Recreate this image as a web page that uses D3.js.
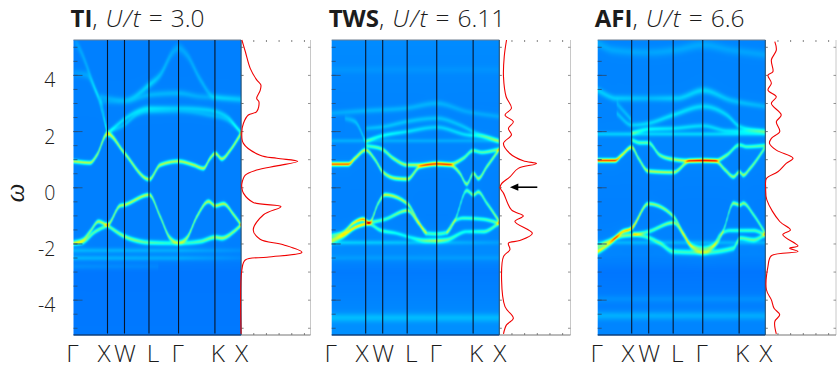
<!DOCTYPE html>
<html><head><meta charset="utf-8">
<script src="https://cdn.jsdelivr.net/npm/d3@7"></script>
<style>html,body{margin:0;background:#fff}svg{display:block}
text{fill:#1c1c1c;font-family:"Open Sans",sans-serif;font-weight:300}</style></head><body>
<script>
// ---- k-path and axis labels ----
const kTicks=[0,1,1.5,2.22,3.09,4.16,4.93];
const kLabels=["Γ","X","W","L","Γ","K","X"];
const kLabelNudge=[-1,-3.5,0.5,4,-1,3,0.5];
const omegaTicks=[-4,-2,0,2,4];
const titles=[["TI","3.0"],["TWS","6.11"],["AFI","6.6"]];
// ---- TI bands: [k, omega, weight] ----
const tiUpper=[[0,.94,.3],[.49,.89,.3],[.69,1.16,.3],[1,1.92,.34],[1.49,1.25,.3],[2.23,.3,.3],[2.55,.81,.3],[3.09,.94,.3],[3.53,.81,.3],[3.82,.69,.3],[4.02,1.05,.3],[4.17,1.22,.3],[4.36,1.03,.3],[4.61,1.34,.3],[4.93,1.94,.3]];
const tiLowerA=[[0,-1.97,.16],[.29,-1.85,.24],[.49,-1.56,.26],[.74,-1.2,.28],[1,-1.31,.32],[1.37,-.64,.28],[1.49,-.61,.3],[2.23,-.25,.3],[2.55,-1.02,.28],[2.84,-1.79,.28],[3.09,-1.95,.16],[3.33,-1.79,.28],[3.63,-1.02,.28],[3.97,-.49,.3],[4.17,-.64,.3],[4.41,-.57,.3],[4.71,-.96,.28],[4.93,-1.32,.3]];
const tiLowerB=[[0,-1.97,.14],[.25,-1.94,.2],[.64,-1.56,.22],[1,-1.34,.2]];
const tiLowerC=[[1,-1.34,.22],[1.47,-1.71,.26],[1.86,-1.88,.24],[2.23,-1.95,.2],[3.09,-1.97,.14],[3.73,-1.91,.2],[4.17,-1.76,.26],[4.36,-1.79,.28],[4.71,-1.56,.26],[4.93,-1.32,.28]];
const tiGhostA=[[.05,5.2,.025],[.2,4.9,.04],[.54,3.84,.05],[.78,3,.06],[1,1.94,.12]];
const tiGhostB=[[.02,4.07,.025],[.39,4.01,.035],[.64,3.48,.045],[.88,2.77,.055],[1,1.94,.08]];
const tiArcA=[[.78,3.24,.035],[1.49,3.12,.035],[2.23,3.66,.085],[2.55,4.01,.06],[2.94,4.85,.04],[3.09,4.96,.04],[3.33,4.73,.04],[3.73,3.84,.05],[4.12,3.24,.045],[4.93,3.12,.045]];
const tiArcB=[[1,1.94,.1],[1.49,2.43,.085],[1.86,2.71,.08],[2.23,2.83,.08],[3.09,2.83,.06],[3.92,2.77,.07],[4.51,2.53,.07],[4.93,1.94,.1]];
const tiArcC=[[.78,3.06,.025],[1.49,3.05,.025],[2.23,3.3,.05],[3.09,3.36,.05],[3.73,3.24,.04],[4.93,3.18,.025]];
const tiArcD=[[1.08,2,.05],[1.49,2.23,.055],[1.86,2.59,.055],[2.23,2.71,.05],[3.09,2.71,.03],[3.94,2.59,.045],[4.51,2.41,.045],[4.93,1.98,.05]];
const tiFlatA=[[0,-2.23,.05],[3.2,-2.23,.04],[4.93,-2.23,.015]];
const tiFlatB=[[0,-2.5,.05],[3.2,-2.5,.04],[4.93,-2.5,.012]];
const tiFlatC=[[0,-2.8,.02],[2.5,-2.8,.012]];
// ---- TWS bands ----
const twsA=[[0,.84,.52],[.49,.84,.52],[.69,1.05,.33],[1,1.34,.3],[1.27,1.01,.26],[1.5,.57,.28],[1.91,.33,.3],[2.23,.31,.3],[2.6,.75,.28],[3.09,.83,.3],[3.48,.81,.28],[3.77,.51,.26],[3.97,.13,.26],[4.17,.51,.26],[4.31,.33,.28],[4.56,.75,.26],[4.93,1.37,.28]];
const twsB=[[1,1.5,.16],[1.47,1.38,.22],[1.81,1.05,.26],[2.23,.81,.28],[2.6,.81,.3],[3.09,.87,.3],[3.48,.84,.3],[3.87,1.05,.23],[4.16,1.32,.2],[4.41,1.26,.2],[4.93,1.37,.22]];
const twsC=[[0,-1.7,.16],[.34,-1.59,.22],[.64,-1.26,.36],[.93,-1.12,.48],[1.11,-1.24,.33],[1.37,-.55,.24],[1.57,-.25,.32],[2.23,-.57,.28],[2.55,-1.2,.24],[2.79,-1.62,.18],[3.09,-1.64,.18],[3.38,-1.59,.18],[3.63,-1.14,.2],[3.97,-.1,.2],[4.17,-.25,.24],[4.31,-.15,.24],[4.56,-.55,.22],[4.93,-1.2,.3]];
const twsD=[[0,-1.83,.16],[.34,-1.67,.22],[.64,-1.44,.22],[1.08,-1.26,.22],[1.57,-1.12,.18],[2.23,-.81,.28],[2.55,-1.26,.22],[2.79,-1.59,.18]];
const twsD2=[[3.38,-1.59,.16],[3.63,-1.17,.16],[3.87,-1.08,.18],[4.46,-1.12,.18],[4.93,-1.26,.22]];
const twsE=[[0,-1.91,.2],[.34,-1.73,.2],[.74,-1.38,.18],[1.08,-1.28,.18],[1.42,-1.5,.18],[1.91,-1.62,.12],[2.3,-1.76,.11],[2.79,-1.88,.2],[3.09,-1.88,.25],[3.38,-1.85,.2],[3.97,-1.56,.12],[4.46,-1.56,.18],[4.93,-1.26,.22]];
const twsU1=[[1,1.64,.18],[1.32,1.79,.13],[2.23,2,.09],[3.09,2.15,.07],[3.97,1.88,.09],[4.46,1.82,.13],[4.93,1.64,.16]];
const twsU2=[[.39,2.47,.04],[.69,2.35,.06],[1,1.64,.08]];
const twsU3=[[1,2.11,.05],[1.52,2.17,.06],[2.2,2.35,.06],[3.09,2.47,.055],[3.77,2.23,.06],[4.26,1.94,.07],[4.93,1.67,.09]];
const twsU4=[[0,2.65,.035],[1.03,2.74,.045],[2.2,2.83,.045],[3.09,3,.045],[3.97,2.71,.035],[4.93,2.53,.035]];
const twsFlatA=[[0,1.67,.04],[4.93,1.67,.035]];
const twsFlatB=[[0,-1.95,.07],[2.6,-1.95,.05],[4.93,-1.95,.02]];
const twsFlatC=[[0,-2.5,.018],[4.93,-2.5,.018]];
const twsFlatD=[[0,-4.62,.05],[4.93,-4.62,.045]];
const twsFlatE=[[0,4.2,.012],[4.93,4.2,.01]];
// ---- AFI bands ----
const afiA=[[0,.97,.55],[.51,.97,.55],[.71,1.16,.36],[1,1.44,.33],[1.2,1.05,.26],[1.49,.59,.3],[2.23,.55,.28],[2.72,.96,.26],[3.11,.97,.3],[3.45,.96,.28],[3.75,.63,.26],[3.99,.39,.26],[4.17,.56,.26],[4.28,.45,.28],[4.48,.69,.26],[4.93,1.44,.23]];
const afiB=[[1,1.7,.16],[1.25,1.6,.2],[1.49,1.6,.2],[1.83,1.16,.23],[2.23,1.01,.28],[2.72,.96,.32],[3.11,.97,.32],[3.45,.96,.32],[3.79,1.16,.23],[4.17,1.52,.18],[4.38,1.46,.18],[4.93,1.5,.2]];
const afiC=[[0,-2.27,.38],[.31,-2.03,.28],[.71,-1.58,.4],[1,-1.44,.44],[1.49,-.57,.26],[2.23,-1.02,.26],[2.52,-1.62,.23],[2.76,-2.07,.2],[3.11,-2.15,.16],[3.45,-2.03,.2],[3.7,-1.5,.2],[3.99,-.55,.26],[4.19,-.61,.26],[4.28,-.55,.26],[4.58,-.96,.22],[4.93,-1.62,.23]];
const afiD=[[0,-2.09,.22],[.36,-1.88,.22],[.66,-1.73,.24],[1.05,-1.67,.24],[1.49,-1.56,.18],[2.23,-1.24,.26],[2.52,-1.67,.2],[2.81,-2.15,.16],[3.11,-2.29,.15],[3.4,-2.09,.16],[3.6,-1.67,.15],[3.89,-1.52,.16],[4.58,-1.52,.18],[4.93,-1.67,.2]];
const afiE=[[1.05,-1.64,.18],[1.54,-1.79,.18],[1.83,-1.97,.18],[2.23,-2.27,.18],[3.11,-2.3,.17],[3.99,-2.15,.18],[4.19,-1.79,.2],[4.58,-1.85,.2],[4.93,-1.67,.2]];
const afiU1=[[1,1.94,.16],[1.49,2.08,.11],[2.23,2.11,.09],[3.11,2.2,.08],[3.79,2.03,.08],[4.93,2,.1]];
const afiU2=[[.56,2.65,.055],[1,2.23,.07],[1.49,2.29,.08],[2.23,2.59,.09],[3.11,2.89,.08],[3.79,2.59,.08],[4.19,2.17,.09],[4.93,2,.1]];
const afiU3=[[0,3.46,.07],[.56,3.18,.07],[1.49,3.18,.05],[2.32,3.18,.07],[3.11,3.46,.08],[3.89,3.12,.06],[4.93,2.89,.045]];
const afiU4=[[.56,3,.045],[1,2.41,.06]];
const afiU5=[[0,5.14,.035],[.44,4.9,.035],[1.49,4.81,.03],[2.32,4.9,.035],[3.11,5.08,.035],[3.89,4.9,.03],[4.93,4.73,.03]];
const afiFlatA=[[0,1.91,.07],[4.93,1.91,.08]];
const afiFlatB=[[0,-1.95,.045],[4.93,-1.95,.045]];
const afiFlatC=[[0,-4.55,.045],[4.93,-4.55,.04]];
const afiFlatD=[[0,-3.95,.018],[4.93,-3.95,.018]];
// ---- densities of states: [omega, dos] ----
const tiDos=[[5.26,.02],[4.85,.11],[4.25,.24],[3.84,.41],[3.66,.52],[3.46,.5],[3.18,.41],[3.06,.47],[2.71,.41],[2.59,.19],[2.29,.06],[2,.02],[1.58,.06],[1.16,.5],[1.05,.94],[.94,1.49],[.78,.94],[.63,.41],[.45,.11],[.15,.02],[0,.02],[-.19,.06],[-.52,.32],[-.67,1.05],[-.96,.59],[-1.5,.32],[-1.83,.5],[-2.03,1.11],[-2.3,1.6],[-2.47,.68],[-2.57,.11],[-2.92,.02],[-5.2,0]];
const twsDos=[[5.26,.19],[4.67,.13],[3.96,.11],[3.24,.18],[2.83,.32],[2.59,.15],[2.35,.37],[2.11,.24],[1.88,.32],[1.58,.11],[1.22,.28],[.96,.63],[.86,.98],[.69,.5],[.39,.28],[.15,.06],[0,.02],[-.19,.11],[-.79,.32],[-1,.63],[-1.2,.41],[-1.62,.87],[-1.88,.54],[-1.97,.24],[-2.2,.28],[-2.45,.11],[-3.28,.06],[-4.23,.15],[-4.65,.37],[-4.88,.19],[-5.2,.11]];
const afiDos=[[5.2,.25],[4.9,.29],[4.55,.16],[4.13,.2],[4.01,.07],[3.72,.16],[3.48,.07],[3.24,.29],[3,.16],[2.59,.42],[2.35,.29],[2,.38],[1.76,.16],[1.58,.11],[1.34,.29],[1.05,.73],[.87,.55],[.57,.33],[.33,.03],[0,.01],[-.43,.04],[-1.2,.38],[-1.5,.66],[-1.67,.46],[-2.07,.86],[-2.15,.64],[-2.27,.86],[-2.42,.16],[-2.8,.07],[-3.63,.03],[-3.99,.16],[-4.29,.23],[-4.52,.38],[-4.76,.25],[-5.2,.29]];
// ---- non-dispersive background level along omega ----
const bgOmega=[-5.3,-3,-2.4,-1,1.5,3,5.3];
const tiBg=[.243,.241,.25,.25,.25,.252,.25];
const twsBg=[.268,.245,.262,.252,.255,.255,.262];
const afiBg=[.258,.24,.255,.25,.255,.255,.255];

const panels=[
 {left:73.5,dosRight:310.5,bands:[tiUpper,tiLowerA,tiLowerB,tiLowerC,tiGhostA,tiGhostB,tiArcA,tiArcB,tiArcC,tiArcD,tiFlatA,tiFlatB,tiFlatC],dos:tiDos,bg:tiBg},
 {left:331.7,dosRight:570.5,bands:[twsA,twsB,twsC,twsD,twsD2,twsE,twsU1,twsU2,twsU3,twsU4,twsFlatA,twsFlatB,twsFlatC,twsFlatD,twsFlatE],dos:twsDos,bg:twsBg},
 {left:597.7,dosRight:836,bands:[afiA,afiB,afiC,afiD,afiE,afiU1,afiU2,afiU3,afiU4,afiU5,afiFlatA,afiFlatB,afiFlatC,afiFlatD],dos:afiDos,bg:afiBg}
];
const W=839,H=371,top_=40,bottom_=335,heatW=167.6;
const svg=d3.select("body").append("svg").attr("width",W).attr("height",H);
const y=d3.scaleLinear().domain([-5.24,5.26]).range([bottom_,top_]);
const jet=d3.scaleLinear().domain([0,.125,.375,.625,.875,1]).range(["#00007f","#0000ff","#00ffff","#ffff00","#ff0000","#7f0000"]).clamp(true);
const jetLut=d3.range(1025).map(i=>{const c=d3.rgb(jet(i/1024));return [c.r,c.g,c.b]});

function monotone(band){
  const n=band.length,h=[],s=[],m=new Array(n);
  for(let i=0;i<n-1;i++){h[i]=band[i+1][0]-band[i][0];s[i]=(band[i+1][1]-band[i][1])/h[i]}
  m[0]=s[0];m[n-1]=s[n-2];
  for(let i=1;i<n-1;i++){const p=(s[i-1]*h[i]+s[i]*h[i-1])/(h[i-1]+h[i]);
    m[i]=(Math.sign(s[i-1])+Math.sign(s[i]))*Math.min(Math.abs(s[i-1]),Math.abs(s[i]),.5*Math.abs(p))}
  return m;
}
function evalBand(band,m,k){
  if(k<band[0][0]||k>band[band.length-1][0])return null;
  let i=d3.bisectRight(band.map(d=>d[0]),k)-1; if(i>=band.length-1)i=band.length-2;
  const h=band[i+1][0]-band[i][0],t=(k-band[i][0])/h,a=band[i],b=band[i+1];
  const t2=t*t,t3=t2*t;
  return [(2*t3-3*t2+1)*a[1]+(t3-2*t2+t)*h*m[i]+(-2*t3+3*t2)*b[1]+(t3-t2)*h*m[i+1],a[2]+(b[2]-a[2])*t];
}
function heatImage(p,x){
  const ss=3,cw=Math.round(heatW*ss),ch=(bottom_-top_)*ss;
  const c=document.createElement("canvas");c.width=cw;c.height=ch;
  const ctx=c.getContext("2d"),img=ctx.createImageData(cw,ch);
  const bgScale=d3.scaleLinear().domain(bgOmega).range(p.bg);
  const slopes=p.bands.map(monotone),g0=.04,sig0=.05;
  for(let i=0;i<cw;i++){
    const k=x.invert(p.left+(i+.5)/ss);
    const at=[];
    p.bands.forEach((b,j)=>{const r=evalBand(b,slopes[j],k);if(r)at.push(r)});
    for(let j=0;j<ch;j++){
      const w=y.invert(top_+(j+.5)/ss);
      let v=bgScale(w);
      for(const r of at){const d=w-r[0];
        const wide=1+.4*Math.max(0,Math.abs(r[0])-1.4);
        const g=g0*wide,s=sig0*wide;
        v+=r[1]*(.2*g*g/(d*d+g*g)+.8*Math.exp(-d*d/(2*s*s)));}
      const o=jetLut[Math.min(1024,Math.max(0,Math.round(v*1024)))],q=(j*cw+i)*4;
      img.data[q]=o[0];img.data[q+1]=o[1];img.data[q+2]=o[2];img.data[q+3]=255;
    }
  }
  ctx.putImageData(img,0,0);
  const out=document.createElement("canvas");out.width=Math.round(heatW);out.height=bottom_-top_;
  const o2=out.getContext("2d");o2.filter="blur(0.4px)";o2.imageSmoothingQuality="high";
  o2.drawImage(c,0,0,out.width,out.height);
  return out.toDataURL();
}
function tickMarks(g,scale,vals,x0,len,color,w){
  g.selectAll(null).data(vals).enter().append("line")
   .attr("x1",x0).attr("x2",x0+len).attr("y1",d=>scale(d)).attr("y2",d=>scale(d))
   .attr("stroke",color).attr("stroke-width",w);
}
panels.forEach((p,pi)=>{
  const g=svg.append("g");
  const x=d3.scaleLinear().domain([0,4.93]).range([p.left,p.left+heatW]);
  const right=p.left+heatW;
  const dosX=d3.scaleLinear().domain([0,1]).range([right,right+38]);
  g.append("image").attr("x",p.left).attr("y",top_).attr("width",heatW).attr("height",bottom_-top_)
    .attr("preserveAspectRatio","none").attr("href",heatImage(p,x));
  g.append("line").attr("x1",p.dosRight).attr("x2",p.dosRight).attr("y1",top_).attr("y2",bottom_).attr("stroke","#c8c8c8");
  g.append("line").attr("x1",p.left).attr("x2",right).attr("y1",top_).attr("y2",top_).attr("stroke","#6f7f8f").attr("stroke-width",1.2);
  g.append("line").attr("x1",p.left).attr("x2",right).attr("y1",bottom_).attr("y2",bottom_).attr("stroke","#0c3f7c").attr("stroke-width",1.4);
  g.append("line").attr("x1",right).attr("x2",p.dosRight).attr("y1",bottom_).attr("y2",bottom_).attr("stroke","#777").attr("stroke-width",1.2);
  g.append("line").attr("x1",right).attr("x2",right).attr("y1",top_).attr("y2",bottom_).attr("stroke","#25506f").attr("stroke-width",1.1);
  g.selectAll(null).data(kTicks.slice(1,6)).enter().append("line")
    .attr("x1",d=>x(d)).attr("x2",d=>x(d)).attr("y1",top_).attr("y2",bottom_-1.5)
    .attr("stroke","#07162c").attr("stroke-width",1.1);
  const minor=d3.range(-5,5.5,.5), major=d3.range(-4,5,2);
  tickMarks(g,y,minor,p.left,4,"#24507f",.9);
  tickMarks(g,y,major,p.left,9,"#24507f",.9);
  const dosT=d3.range(-5,6,1);
  tickMarks(g,y,dosT,right,2.5,"#555",.8);
  tickMarks(g,y,dosT,p.dosRight-2.5,2.5,"#777",.8);
  const dosMinor=d3.range(1/3,1.84,1/3);
  g.selectAll(null).data(dosMinor).enter().append("line")
    .attr("x1",d=>dosX(d)).attr("x2",d=>dosX(d)).attr("y1",bottom_).attr("y2",bottom_-2)
    .attr("stroke","#666").attr("stroke-width",.8);
  g.selectAll(null).data(dosMinor).enter().append("line")
    .attr("x1",d=>dosX(d)).attr("x2",d=>dosX(d)).attr("y1",top_).attr("y2",top_+2)
    .attr("stroke","#666").attr("stroke-width",.8);
  const line=d3.line().x(d=>dosX(d[1])).y(d=>y(d[0])).curve(d3.curveCatmullRom.alpha(.5));
  g.append("path").attr("d",line(p.dos)).attr("fill","none").attr("stroke","#f00000").attr("stroke-width",1.1);
  g.selectAll(null).data(kLabels).enter().append("text")
    .attr("x",(d,i)=>x(kTicks[i])+kLabelNudge[i]).attr("y",362).attr("text-anchor","middle")
    .attr("font-size",24.5).text(d=>d);
  const t=g.append("text").attr("x",p.left-3).attr("y",27).attr("font-size",24.5);
  t.append("tspan").style("font-weight",700).attr("font-size",24).text(titles[pi][0]);
  t.append("tspan").text(",");
  t.append("tspan").attr("dx",8).style("font-style","italic").style("letter-spacing","1.2px").text("U/t");
  t.append("tspan").attr("dx",7).text("=");
  t.append("tspan").attr("dx",8).text(titles[pi][1]);
});
svg.selectAll(null).data(omegaTicks).enter().append("text")
  .attr("x",55.5).attr("y",d=>y(d)+12).attr("text-anchor","end").attr("font-size",19.5)
  .text(d=>d);
svg.append("text").attr("transform","translate(24,193) rotate(-90)").attr("text-anchor","middle")
  .attr("font-size",27).style("font-family","'Liberation Serif',serif").style("font-style","italic").text("ω");
const arrowX=d3.scaleLinear().domain([0,1]).range([499.3,537.3]);
const ay=y(0.02);
svg.append("line").attr("x1",arrowX(1)).attr("x2",arrowX(.38)).attr("y1",ay).attr("y2",ay).attr("stroke","#000").attr("stroke-width",1.6);
svg.append("path").attr("d",d3.line()([[arrowX(.28),ay],[arrowX(.5),ay-3.6],[arrowX(.5),ay+3.6]])+"Z").attr("fill","#000");
</script></body></html>
